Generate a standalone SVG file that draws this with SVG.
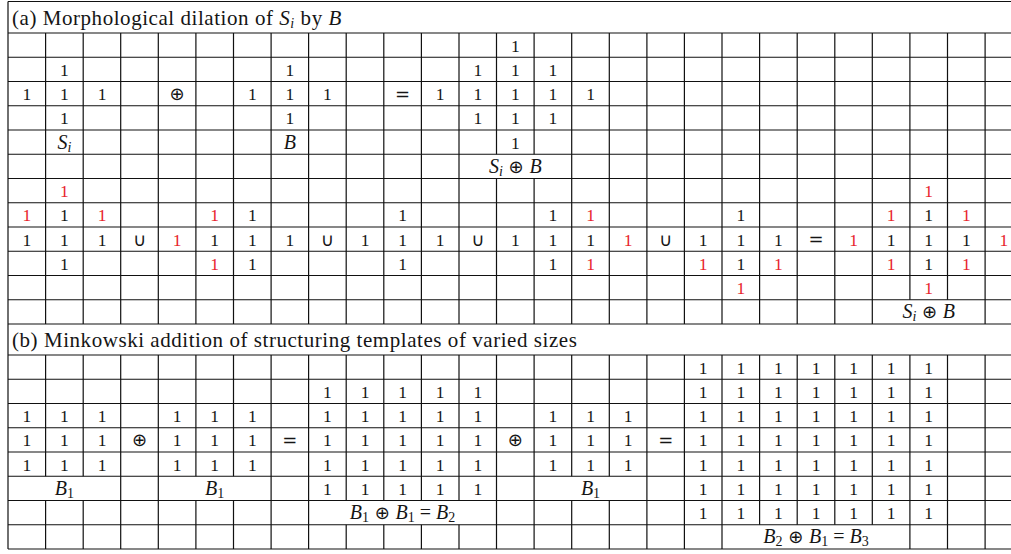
<svg xmlns="http://www.w3.org/2000/svg" width="1011" height="554" viewBox="0 0 1011 554">
<style>
.g{stroke:#111;stroke-width:1.2;fill:none}
.t{font-family:"Liberation Serif","DejaVu Serif",serif;font-size:17.5px;text-anchor:middle;fill:#151515}
.r{fill:#e8242c}
.o{font-family:"DejaVu Sans",sans-serif;font-size:18px}
.i{font-style:italic}
.m{font-size:20px}
.s{font-size:14px}
.h{font-family:"Liberation Serif","DejaVu Serif",serif;font-size:21px;letter-spacing:0.55px;fill:#151515}
</style>
<rect width="1011" height="554" fill="#fff"/>
<g id="connectors">
<path class="g" d="M8 1.5H1011M8 33H1011M8 57.25H1011M8 81.5H1011M8 105.75H1011M8 130H1011M8 154.25H1011M8 178.5H1011M8 202.75H1011M8 227H1011M8 251.25H1011M8 275.5H1011M8 299.75H1011M8 324H1011M8 355H1011M8 379.25H1011M8 403.5H1011M8 427.75H1011M8 452H1011M8 476.25H1011M8 500.5H1011M8 524.75H1011M8 549H1011"/>
<path class="g" d="M8 1.5V549
M45.6 33V324M83.2 33V324M120.7 33V324M158.3 33V324M195.9 33V324M233.5 33V324M271.1 33V324M308.6 33V324M346.2 33V324M383.8 33V324M421.4 33V324M459 33V324
M496.5 33V154.25M496.5 178.5V324M534.1 33V154.25M534.1 178.5V324
M571.7 33V324M609.3 33V324M646.9 33V324M684.4 33V324M722 33V324M759.6 33V324M797.2 33V324M834.8 33V324M872.3 33V324
M909.9 33V299.75M947.5 33V299.75M985.1 33V324"/>
<path class="g" d="M45.6 355V476.25M45.6 500.5V549M83.2 355V476.25M83.2 500.5V549M120.7 355V549M158.3 355V549
M195.9 355V476.25M195.9 500.5V549M233.5 355V476.25M233.5 500.5V549M271.1 355V549M308.6 355V549
M346.2 355V500.5M346.2 524.75V549M383.8 355V500.5M383.8 524.75V549M421.4 355V500.5M421.4 524.75V549M459 355V500.5M459 524.75V549
M496.5 355V549M534.1 355V549M571.7 355V476.25M571.7 500.5V549M609.3 355V476.25M609.3 500.5V549M646.9 355V549M684.4 355V549M722 355V549
M759.6 355V524.75M797.2 355V524.75M834.8 355V524.75M872.3 355V524.75M909.9 355V549M947.5 355V549M985.1 355V549"/>
</g>
<g id="title-a"><text class="h" x="12" y="25">(a) Morphological dilation of <tspan class="i">S</tspan><tspan font-size="14" dy="3" class="i">i</tspan><tspan dy="-3"> by </tspan><tspan class="i">B</tspan></text></g>
<g id="Si" class="t">
<text x="64.4" y="75.9">1</text>
<text x="26.8" y="100.1">1</text><text x="64.4" y="100.1">1</text><text x="102" y="100.1">1</text>
<text x="64.4" y="124.4">1</text>
<text x="64.4" y="148.6" class="m"><tspan class="i">S</tspan><tspan class="i s" dy="3">i</tspan></text>
</g>
<g id="op-dilate-a" class="t"><text class="o" x="177.1" y="99.5">⊕</text></g>
<g id="B" class="t">
<text x="289.9" y="75.9">1</text>
<text x="252.3" y="100.1">1</text><text x="289.9" y="100.1">1</text><text x="327.4" y="100.1">1</text>
<text x="289.9" y="124.4">1</text>
<text x="289.9" y="148.6" class="i m">B</text>
</g>
<g id="op-eq-a" class="t"><text class="o" x="402.6" y="99.5">=</text></g>
<g id="SiB" class="t">
<text x="515.3" y="51.6">1</text>
<text x="477.8" y="75.9">1</text><text x="515.3" y="75.9">1</text><text x="552.9" y="75.9">1</text>
<text x="440.2" y="100.1">1</text><text x="477.8" y="100.1">1</text><text x="515.3" y="100.1">1</text><text x="552.9" y="100.1">1</text><text x="590.5" y="100.1">1</text>
<text x="477.8" y="124.4">1</text><text x="515.3" y="124.4">1</text><text x="552.9" y="124.4">1</text>
<text x="515.3" y="148.6">1</text>
<text x="515.3" y="172.9" class="m"><tspan class="i">S</tspan><tspan class="i s" dy="3">i</tspan><tspan class="o" dy="-3"> ⊕ </tspan><tspan class="i">B</tspan></text>
</g>
<g id="term1" class="t">
<text class="r" x="64.4" y="197.1">1</text>
<text class="r" x="26.8" y="221.4">1</text><text x="64.4" y="221.4">1</text><text class="r" x="102" y="221.4">1</text>
<text x="26.8" y="245.6">1</text><text x="64.4" y="245.6">1</text><text x="102" y="245.6">1</text>
<text x="64.4" y="269.9">1</text>
</g>
<g id="union-ops" class="t">
<text class="o" x="139.5" y="245.5">∪</text>
<text class="o" x="327.4" y="245.5">∪</text>
<text class="o" x="477.8" y="245.5">∪</text>
<text class="o" x="665.7" y="245.5">∪</text>
<text class="o" x="816" y="245">=</text>
</g>
<g id="term2" class="t">
<text class="r" x="214.7" y="221.4">1</text><text x="252.3" y="221.4">1</text>
<text class="r" x="177.1" y="245.6">1</text><text x="214.7" y="245.6">1</text><text x="252.3" y="245.6">1</text><text x="289.9" y="245.6">1</text>
<text class="r" x="214.7" y="269.9">1</text><text x="252.3" y="269.9">1</text>
</g>
<g id="term3" class="t">
<text x="402.6" y="221.4">1</text>
<text x="365" y="245.6">1</text><text x="402.6" y="245.6">1</text><text x="440.2" y="245.6">1</text>
<text x="402.6" y="269.9">1</text>
</g>
<g id="term4" class="t">
<text x="552.9" y="221.4">1</text><text class="r" x="590.5" y="221.4">1</text>
<text x="515.3" y="245.6">1</text><text x="552.9" y="245.6">1</text><text x="590.5" y="245.6">1</text><text class="r" x="628.1" y="245.6">1</text>
<text x="552.9" y="269.9">1</text><text class="r" x="590.5" y="269.9">1</text>
</g>
<g id="term5" class="t">
<text x="740.8" y="221.4">1</text>
<text x="703.2" y="245.6">1</text><text x="740.8" y="245.6">1</text><text x="778.4" y="245.6">1</text>
<text class="r" x="703.2" y="269.9">1</text><text x="740.8" y="269.9">1</text><text class="r" x="778.4" y="269.9">1</text>
<text class="r" x="740.8" y="294.1">1</text>
</g>
<g id="result-a" class="t">
<text class="r" x="928.7" y="197.1">1</text>
<text class="r" x="891.1" y="221.4">1</text><text x="928.7" y="221.4">1</text><text class="r" x="966.3" y="221.4">1</text>
<text class="r" x="853.6" y="245.6">1</text><text x="891.1" y="245.6">1</text><text x="928.7" y="245.6">1</text><text x="966.3" y="245.6">1</text><text class="r" x="1003.9" y="245.6">1</text>
<text class="r" x="891.1" y="269.9">1</text><text x="928.7" y="269.9">1</text><text class="r" x="966.3" y="269.9">1</text>
<text class="r" x="928.7" y="294.1">1</text>
<text x="928.7" y="318.4" class="m"><tspan class="i">S</tspan><tspan class="i s" dy="3">i</tspan><tspan class="o" dy="-3"> ⊕ </tspan><tspan class="i">B</tspan></text>
</g>
<g id="title-b"><text class="h" x="12" y="347">(b) Minkowski addition of structuring templates of varied sizes</text></g>
<g id="B1-first" class="t">
<text x="26.8" y="422.1">1</text><text x="64.4" y="422.1">1</text><text x="102" y="422.1">1</text>
<text x="26.8" y="446.4">1</text><text x="64.4" y="446.4">1</text><text x="102" y="446.4">1</text>
<text x="26.8" y="470.6">1</text><text x="64.4" y="470.6">1</text><text x="102" y="470.6">1</text>
<text x="64.4" y="494.9" class="m"><tspan class="i">B</tspan><tspan class="s" dy="3">1</tspan></text>
</g>
<g id="ops-b" class="t">
<text class="o" x="139.5" y="446">⊕</text>
<text class="o" x="289.9" y="446">=</text>
<text class="o" x="515.3" y="446">⊕</text>
<text class="o" x="665.7" y="446">=</text>
</g>
<g id="B1-second" class="t">
<text x="177.1" y="422.1">1</text><text x="214.7" y="422.1">1</text><text x="252.3" y="422.1">1</text>
<text x="177.1" y="446.4">1</text><text x="214.7" y="446.4">1</text><text x="252.3" y="446.4">1</text>
<text x="177.1" y="470.6">1</text><text x="214.7" y="470.6">1</text><text x="252.3" y="470.6">1</text>
<text x="214.7" y="494.9" class="m"><tspan class="i">B</tspan><tspan class="s" dy="3">1</tspan></text>
</g>
<g id="B2" class="t">
<text x="327.4" y="397.9">1</text><text x="365" y="397.9">1</text><text x="402.6" y="397.9">1</text><text x="440.2" y="397.9">1</text><text x="477.8" y="397.9">1</text>
<text x="327.4" y="422.1">1</text><text x="365" y="422.1">1</text><text x="402.6" y="422.1">1</text><text x="440.2" y="422.1">1</text><text x="477.8" y="422.1">1</text>
<text x="327.4" y="446.4">1</text><text x="365" y="446.4">1</text><text x="402.6" y="446.4">1</text><text x="440.2" y="446.4">1</text><text x="477.8" y="446.4">1</text>
<text x="327.4" y="470.6">1</text><text x="365" y="470.6">1</text><text x="402.6" y="470.6">1</text><text x="440.2" y="470.6">1</text><text x="477.8" y="470.6">1</text>
<text x="327.4" y="494.9">1</text><text x="365" y="494.9">1</text><text x="402.6" y="494.9">1</text><text x="440.2" y="494.9">1</text><text x="477.8" y="494.9">1</text>
<text x="402.6" y="519.1" class="m"><tspan class="i">B</tspan><tspan class="s" dy="3">1</tspan><tspan class="o" dy="-3"> ⊕ </tspan><tspan class="i">B</tspan><tspan class="s" dy="3">1</tspan><tspan dy="-3"> = </tspan><tspan class="i">B</tspan><tspan class="s" dy="3">2</tspan></text>
</g>
<g id="B1-third" class="t">
<text x="552.9" y="422.1">1</text><text x="590.5" y="422.1">1</text><text x="628.1" y="422.1">1</text>
<text x="552.9" y="446.4">1</text><text x="590.5" y="446.4">1</text><text x="628.1" y="446.4">1</text>
<text x="552.9" y="470.6">1</text><text x="590.5" y="470.6">1</text><text x="628.1" y="470.6">1</text>
<text x="590.5" y="494.9" class="m"><tspan class="i">B</tspan><tspan class="s" dy="3">1</tspan></text>
</g>
<g id="B3" class="t">
<text x="703.2" y="373.6">1</text><text x="740.8" y="373.6">1</text><text x="778.4" y="373.6">1</text><text x="816" y="373.6">1</text><text x="853.6" y="373.6">1</text><text x="891.1" y="373.6">1</text><text x="928.7" y="373.6">1</text>
<text x="703.2" y="397.9">1</text><text x="740.8" y="397.9">1</text><text x="778.4" y="397.9">1</text><text x="816" y="397.9">1</text><text x="853.6" y="397.9">1</text><text x="891.1" y="397.9">1</text><text x="928.7" y="397.9">1</text>
<text x="703.2" y="422.1">1</text><text x="740.8" y="422.1">1</text><text x="778.4" y="422.1">1</text><text x="816" y="422.1">1</text><text x="853.6" y="422.1">1</text><text x="891.1" y="422.1">1</text><text x="928.7" y="422.1">1</text>
<text x="703.2" y="446.4">1</text><text x="740.8" y="446.4">1</text><text x="778.4" y="446.4">1</text><text x="816" y="446.4">1</text><text x="853.6" y="446.4">1</text><text x="891.1" y="446.4">1</text><text x="928.7" y="446.4">1</text>
<text x="703.2" y="470.6">1</text><text x="740.8" y="470.6">1</text><text x="778.4" y="470.6">1</text><text x="816" y="470.6">1</text><text x="853.6" y="470.6">1</text><text x="891.1" y="470.6">1</text><text x="928.7" y="470.6">1</text>
<text x="703.2" y="494.9">1</text><text x="740.8" y="494.9">1</text><text x="778.4" y="494.9">1</text><text x="816" y="494.9">1</text><text x="853.6" y="494.9">1</text><text x="891.1" y="494.9">1</text><text x="928.7" y="494.9">1</text>
<text x="703.2" y="519.1">1</text><text x="740.8" y="519.1">1</text><text x="778.4" y="519.1">1</text><text x="816" y="519.1">1</text><text x="853.6" y="519.1">1</text><text x="891.1" y="519.1">1</text><text x="928.7" y="519.1">1</text>
<text x="816" y="543.4" class="m"><tspan class="i">B</tspan><tspan class="s" dy="3">2</tspan><tspan class="o" dy="-3"> ⊕ </tspan><tspan class="i">B</tspan><tspan class="s" dy="3">1</tspan><tspan dy="-3"> = </tspan><tspan class="i">B</tspan><tspan class="s" dy="3">3</tspan></text>
</g>
</svg>
